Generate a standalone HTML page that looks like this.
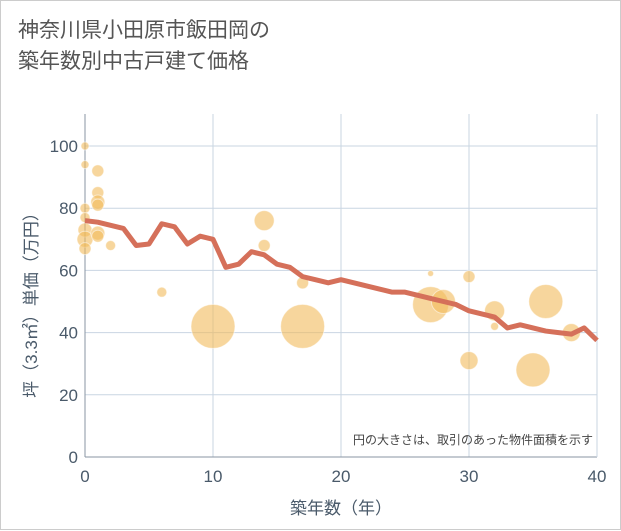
<!DOCTYPE html>
<html><head><meta charset="utf-8"><style>
body{margin:0;background:#fff;}
#wrap{width:619px;height:528px;border:1px solid #ccc;position:relative;background:#fff;font-family:"Liberation Sans","Noto Sans CJK JP",sans-serif;}
#title{position:absolute;left:17px;top:14px;font-size:21px;line-height:31px;color:#555;}
svg{position:absolute;left:0;top:0;}
</style></head><body>
<div id="wrap">
<div id="title">神奈川県小田原市飯田岡の<br>築年数別中古戸建て価格</div>
<svg id="chart" width="621" height="530"></svg>
</div>
<script>
const xTicks=[0,10,20,30,40];
const yTicks=[0,20,40,60,80,100];
const lineYears=[0,1,2,3,4,5,6,7,8,9,10,11,12,13,14,15,16,17,18,19,20,21,22,23,24,25,26,27,28,29,30,31,32,33,34,35,36,37,38,39,40];
const lineValues=[76,75.5,74.5,73.5,68,68.5,75,74,68.5,71,70,61,62,66,65,62,61,58,57,56,57,56,55,54,53,53,52,51,50,49,47,46,45,41.5,42.5,41.5,40.5,40,39.5,41.5,37.5];
const bubbleX=[0,0,1,1,1,1,0,0,0,0,0,1,1,2,6,10,14,14,17,17,27,27,28,30,30,32,32,35,36,38];
const bubbleY=[100,94,92,85,82,81,80,77,73,70,67,72,71,68,53,42,76,68,56,42,59,49,50,58,31,47,42,28,50,40];
const bubbleSize=[16,16,36,36,49,36,25,25,49,64,36,49,36,25,25,484,100,36,36,484,9,324,144,36,81,100,16,289,289,81];
const NS="http://www.w3.org/2000/svg";
const svg=document.getElementById('chart');
const X0=84,X1=596,Y0=456,Y1=145;
const xs=v=>X0+(X1-X0)*v/40;
const ys=v=>Y0-(Y0-Y1)*v/100;
function mk(t,a){const e=document.createElementNS(NS,t);for(const k in a)e.setAttribute(k,a[k]);svg.appendChild(e);return e;}
const plotTop=113;
xTicks.forEach(t=>{
 if(t>0){const g=mk('line',{x1:xs(t),x2:xs(t),y1:plotTop,y2:Y0,stroke:'#c9d5e2','stroke-width':1});
 
 }
 const l=mk('text',{x:xs(t),y:Y0+25,'text-anchor':'middle','font-size':17,fill:'#4a5a6a'});l.textContent=t;
 
 
});
yTicks.forEach(t=>{
 if(t>0){const g=mk('line',{x1:X0,x2:X1,y1:ys(t),y2:ys(t),stroke:'#c9d5e2','stroke-width':1});
 
 }
 const l=mk('text',{x:X0-7,y:ys(t)+6,'text-anchor':'end','font-size':17,fill:'#4a5a6a'});l.textContent=t;
 
 
});
const ax=mk('line',{x1:X0,x2:X1,y1:Y0,y2:Y0,stroke:'#8a96a3','stroke-width':1});


const ay=mk('line',{x1:X0,x2:X0,y1:plotTop,y2:Y0,stroke:'#8a96a3','stroke-width':1});


const ar=mk('line',{x1:X1,x2:X1,y1:plotTop,y2:Y0,stroke:'#c9d5e2','stroke-width':1});


bubbleX.forEach((bx,i)=>{
 const c=mk('circle',{cx:xs(bx),cy:ys(bubbleY[i]),r:Math.sqrt(bubbleSize[i]),fill:'rgba(242,186,92,0.6)',stroke:'rgba(255,255,255,0.5)','stroke-width':1});
 
 
});
const pts=lineYears.map((yr,i)=>xs(yr)+','+ys(lineValues[i])).join(' ');
const pl=mk('polyline',{points:pts,fill:'none',stroke:'#d5705a','stroke-width':5,'stroke-linejoin':'round'});


const note=mk('text',{x:592,y:443,'text-anchor':'end','font-size':12,fill:'#444'});note.textContent='円の大きさは、取引のあった物件面積を示す';


const xt=mk('text',{x:340,y:513,'text-anchor':'middle','font-size':17,fill:'#4a5a6a'});xt.textContent='築年数（年）';


const yt=mk('text',{x:0,y:0,'text-anchor':'middle','font-size':17,fill:'#4a5a6a',transform:'translate(36,300) rotate(-90)'});yt.textContent='坪（3.3㎡）単価（万円）';


</script>
</body></html>
